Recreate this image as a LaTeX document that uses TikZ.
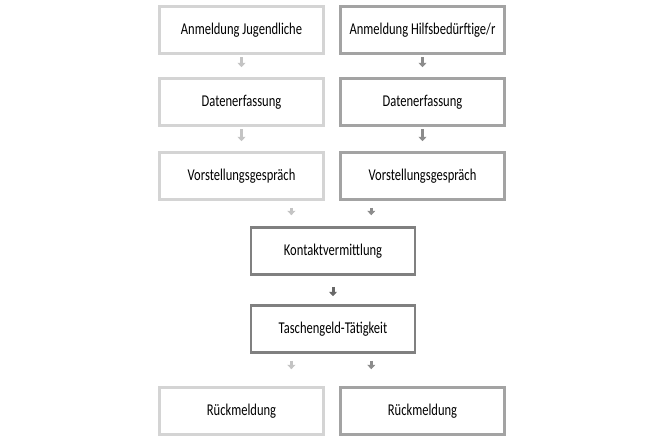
\documentclass[tikz,border=0pt]{standalone}
\usepackage{fontspec}
\setmainfont{Carlito}
\usetikzlibrary{arrows.meta,calc}
\definecolor{lightframe}{RGB}{212,212,212}
\definecolor{midframe}{RGB}{163,163,163}
\definecolor{darkframe}{RGB}{128,128,128}
\definecolor{lightarrow}{RGB}{196,196,196}
\definecolor{midarrow}{RGB}{140,140,140}
\definecolor{darkarrow}{RGB}{104,104,104}
\newcommand{\narrow}[1]{\scalebox{0.76}[1]{#1}}
\tikzset{
	stepbox/.style={draw=#1, text=black, line width=2.5pt, minimum width=164pt, minimum height=47pt, font=\fontsize{16.5}{18}\selectfont},
	flow/.style={line width=3pt, -{Triangle[width=8pt,length=4.5pt]}}
}
\begin{document}
\begin{tikzpicture}[x=1pt,y=-1pt]
	\useasboundingbox (0,0) rectangle (660,440);
	% two columns
	\node[stepbox=lightframe] (anmJ) at (241.5, 30) {\narrow{Anmeldung Jugendliche}};
	\node[stepbox=midframe] (anmH) at (422.5, 30) {\narrow{Anmeldung Hilfsbedürftige/r}};
	\node[stepbox=lightframe] (datJ) at (241.5, 102) {\narrow{Datenerfassung}};
	\node[stepbox=midframe] (datH) at (422.5, 102) {\narrow{Datenerfassung}};
	\node[stepbox=lightframe] (vorJ) at (241.5, 176) {\narrow{Vorstellungsgespräch}};
	\node[stepbox=midframe] (vorH) at (422.5, 176) {\narrow{Vorstellungsgespräch}};
	% middle
	\node[stepbox=darkframe] (kontakt) at (333, 251) {\narrow{Kontaktvermittlung}};
	\node[stepbox=darkframe] (tasch) at (333, 329) {\narrow{Taschengeld-Tätigkeit}};
	% feedback
	\node[stepbox=lightframe] (rueckJ) at (241.5, 411) {\narrow{Rückmeldung}};
	\node[stepbox=midframe] (rueckH) at (422.5, 411) {\narrow{Rückmeldung}};

	\coordinate (kL) at ($(kontakt.north west)!0.25!(kontakt.north east)$);
	\coordinate (kR) at ($(kontakt.north west)!0.73!(kontakt.north east)$);

	% arrows in the columns
	\foreach \a/\b/\c in {anmJ/datJ/lightarrow, datJ/vorJ/lightarrow, anmH/datH/midarrow, datH/vorH/midarrow}
		\draw[flow, \c, shorten <=2.5pt, shorten >=10pt] (\a) -- (\b);
	\draw[flow, lightarrow, shorten <=7pt, shorten >=11pt] (kL |- vorJ.south) -- (kL);
	\draw[flow, midarrow, shorten <=7pt, shorten >=11pt] (kR |- vorH.south) -- (kR);
	\draw[flow, darkarrow, shorten <=11pt, shorten >=8pt] (kontakt) -- (tasch);
	\draw[flow, lightarrow, shorten <=7pt, shorten >=17pt] (kL |- tasch.south) -- (kL |- rueckJ.north);
	\draw[flow, midarrow, shorten <=7pt, shorten >=17pt] (kR |- tasch.south) -- (kR |- rueckH.north);
\end{tikzpicture}
\end{document}
